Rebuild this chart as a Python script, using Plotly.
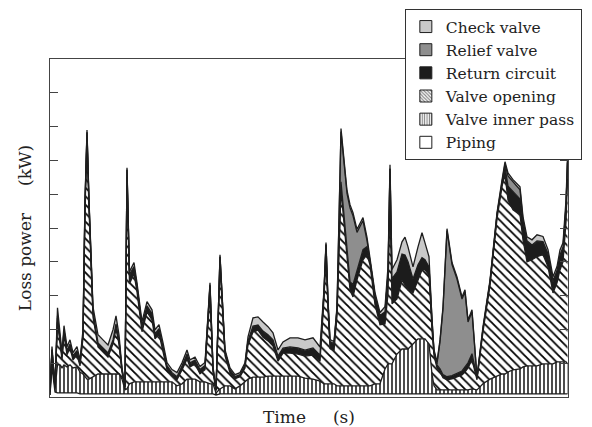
import plotly.graph_objects as go

# Time axis (s) and stacked loss-power components (kW)
time_s = [0, 2, 5, 7.5, 10, 12, 14, 17, 20, 23,
          27, 30, 33, 35, 37, 39, 43, 48, 53, 58,
          63, 66, 69, 72, 75, 77, 79.5, 84, 87, 92,
          97, 102, 105, 109, 113, 117, 122, 127, 132, 137,
          140, 145, 150, 155, 160, 163, 166, 170, 175, 180,
          185, 190, 195, 198, 203, 208, 213, 218, 223, 228,
          233, 240, 248, 255, 263, 270, 274, 276, 278, 280,
          284, 287, 291, 297, 300, 303, 307, 313, 317, 320,
          325, 330, 335, 338, 340, 342, 347, 352, 355, 358,
          363, 368, 372, 375, 379, 382, 384, 387, 390, 393,
          397, 402, 407, 412, 415, 418, 422, 427, 433, 440,
          447, 452, 455, 458, 463, 470, 473, 477, 482, 487,
          493, 498, 503, 507, 510, 513, 516, 517.5]

piping = [0.6, 8.9, 1.5, 1.2, 1.2, 1.2, 1.2, 1.2, 1.2, 1.2,
          1.2, 0.9, 0.9, 0.9, 0.9, 0.9, 0.9, 0.9, 0.9, 0.9,
          0.9, 0.9, 0.9, 0.9, 0.9, 0.9, 0.9, 0.9, 0.9, 0.9,
          0.9, 0.9, 0.9, 0.9, 0.9, 0.9, 0.9, 0.9, 0.9, 0.9,
          0.9, 0.9, 0.9, 0.9, 0.9, 0.9, 0.6, 0.9, 0.9, 0.9,
          0.9, 0.9, 0.9, 0.9, 0.9, 0.9, 0.9, 0.9, 0.9, 0.9,
          0.9, 0.9, 0.9, 0.9, 0.9, 0.9, 0.9, 0.9, 0.9, 0.9,
          0.9, 0.9, 0.9, 0.9, 0.9, 0.9, 0.9, 0.9, 0.9, 0.9,
          0.9, 0.9, 0.9, 0.9, 0.9, 0.9, 0.9, 0.9, 0.9, 0.9,
          0.9, 0.9, 0.9, 0.9, 0.9, 0.9, 0.9, 0.9, 0.9, 0.9,
          0.9, 0.9, 0.9, 0.9, 0.9, 0.9, 0.9, 0.9, 0.9, 0.9,
          0.9, 0.9, 0.9, 0.9, 0.9, 0.9, 0.9, 0.9, 0.9, 0.9,
          0.9, 0.9, 0.9, 0.9, 0.9, 0.9, 0.9, 0.9]

inner_pass = [0, 3.0, 0.9, 8.3, 8.3, 7.4, 8.3, 7.7, 8.3, 7.4,
              7.7, 6.5, 5.9, 5.3, 4.4, 4.4, 5.0, 5.9, 5.9, 5.9,
              5.9, 5.9, 5.9, 4.4, 1.2, 1.5, 3.0, 3.6, 3.6, 3.6,
              3.6, 3.6, 3.6, 3.6, 3.6, 3.6, 3.6, 2.4, 3.0, 4.4,
              4.4, 4.4, 3.6, 3.6, 3.0, 3.0, 0.6, 1.5, 2.4, 2.4,
              1.5, 2.4, 3.6, 4.4, 5.0, 5.0, 5.0, 5.3, 5.3, 5.3,
              5.3, 5.3, 5.3, 4.7, 4.4, 3.8, 3.0, 3.0, 3.0, 3.0,
              3.0, 2.4, 2.4, 2.4, 2.4, 2.4, 2.4, 2.4, 2.4, 2.4,
              3.0, 3.0, 7.4, 8.9, 8.9, 8.9, 11.8, 13.3, 13.3, 13.3,
              14.8, 16.3, 16.3, 16.3, 14.8, 5.9, 2.4, 1.2, 1.2, 1.2,
              1.2, 1.2, 1.2, 1.2, 1.2, 1.2, 1.5, 1.2, 3.0, 4.4,
              5.3, 5.9, 5.9, 6.5, 7.1, 7.4, 8.0, 8.3, 8.3, 8.3,
              8.9, 8.9, 8.9, 9.5, 9.5, 9.5, 9.5, 8.9]

valve_opening = [0.9, 1.5, 0.3, 12.7, 6.5, 2.4, 8.9, 3.6, 5.0, 2.4,
                 3.6, 1.8, 10.7, 49.1, 71.0, 50.3, 17.8, 8.0, 6.5, 5.0,
                 8.9, 13.3, 8.9, 2.1, 0.6, 62.7, 29.6, 32.0, 26.6, 14.8,
                 20.7, 18.3, 12.7, 14.2, 8.9, 3.6, 1.8, 1.8, 4.1, 5.9,
                 3.6, 4.4, 2.4, 3.6, 26.6, 3.6, 0.6, 36.7, 8.9, 3.8,
                 3.0, 2.7, 4.1, 10.1, 13.3, 13.9, 11.8, 10.4, 8.9, 4.4,
                 6.8, 6.8, 6.5, 6.5, 7.1, 5.9, 25.2, 38.5, 22.2, 10.4,
                 9.8, 20.7, 58.0, 37.3, 28.4, 26.3, 31.4, 37.3, 38.8, 35.8,
                 23.4, 17.5, 13.3, 20.7, 50.3, 17.8, 16.3, 20.4, 18.9, 17.5,
                 15.1, 17.5, 20.4, 20.4, 20.4, 13.0, 8.9, 6.5, 5.3, 3.6,
                 3.0, 3.3, 3.8, 4.4, 5.3, 6.5, 8.6, 3.0, 15.4, 27.8,
                 46.5, 55.6, 58.9, 50.9, 47.4, 45.6, 37.6, 30.8, 31.4, 32.3,
                 32.3, 28.7, 21.0, 23.4, 27.2, 29.6, 41.4, 54.8]

return_circuit = [0.3, 0.6, 0.3, 1.2, 1.2, 0.9, 1.2, 0.9, 0.9, 0.9,
                  0.9, 0.6, 0.9, 1.8, 1.8, 1.8, 1.5, 0.9, 0.9, 0.9,
                  0.9, 1.2, 0.9, 0.6, 0.3, 2.1, 2.4, 1.8, 1.5, 1.5,
                  1.5, 1.5, 1.2, 1.2, 1.2, 0.9, 0.6, 0.6, 0.9, 1.2,
                  0.9, 0.9, 0.9, 0.9, 2.4, 0.9, 0.3, 2.4, 1.2, 0.9,
                  0.6, 0.6, 0.9, 1.2, 1.5, 1.2, 1.5, 1.5, 1.5, 1.2,
                  1.2, 1.5, 1.5, 1.5, 1.8, 1.5, 1.8, 2.7, 2.1, 1.8,
                  1.8, 1.8, 2.4, 1.8, 2.4, 3.6, 3.0, 3.0, 2.4, 1.2,
                  2.7, 2.7, 3.6, 5.9, 7.4, 7.4, 8.0, 7.7, 8.9, 8.3,
                  4.1, 4.4, 3.6, 3.0, 2.4, 1.8, 1.2, 0.9, 0.9, 0.9,
                  0.9, 0.9, 1.2, 1.2, 1.5, 1.5, 1.8, 0.6, 0.9, 0.9,
                  1.2, 1.2, 2.4, 4.1, 5.3, 4.7, 5.3, 5.9, 4.1, 4.4,
                  3.6, 3.6, 3.3, 3.3, 4.1, 4.1, 4.4, 4.7]

relief_valve = [0, 0, 0, 0.6, 0.3, 0.3, 0.3, 0.3, 0.3, 0.3,
                0.3, 0.3, 0.3, 0.3, 0.3, 0.3, 0.3, 0.3, 0.3, 0.3,
                0.3, 0.3, 0.3, 0, 0, 0, 0.3, 0.3, 0.3, 0.3,
                0.3, 0.3, 0.3, 0.3, 0.3, 0.3, 0.3, 0.3, 0.3, 0.3,
                0.3, 0.3, 0.3, 0.3, 0.3, 0, 0, 0, 0, 0,
                0, 0, 0, 0, 0.3, 0.3, 0.3, 0.3, 0.3, 0.3,
                0.3, 0.3, 0.3, 0.3, 0.3, 0.3, 0.3, 0, 0, 0.3,
                0.3, 0.3, 14.8, 17.8, 21.9, 20.4, 11.0, 8.6, 1.8, 0,
                0, 0, 0, 0, 0, 0, 0, 0, 0, 0,
                0, 0, 0, 0, 0, 0, 0, 0.3, 8.0, 19.5,
                43.2, 32.9, 27.8, 21.3, 22.2, 12.1, 12.4, 0, 0, 0,
                0, 0, 0.9, 3.0, 3.0, 2.7, 0.6, 0.3, 0.3, 0.3,
                0.3, 0.3, 0.3, 0.3, 0.3, 0.3, 0.3, 0.3]

check_valve = [0.3, 0.9, 0, 2.4, 1.5, 0.9, 1.2, 1.2, 1.2, 0.9,
               1.2, 0.9, 1.2, 0.9, 0.6, 0.6, 1.2, 2.4, 2.4, 2.4,
               3.0, 2.4, 1.5, 0.6, 0, 0.6, 0.9, 1.2, 0.9, 1.2,
               1.2, 1.2, 1.2, 1.2, 1.2, 0.9, 0.9, 1.2, 0.9, 1.2,
               0.9, 0.9, 0.9, 0.9, 0.6, 0.6, 0, 0.6, 0.6, 0.6,
               0.6, 0.6, 0.6, 1.2, 2.4, 2.4, 2.7, 2.4, 2.1, 1.8,
               1.8, 2.7, 3.0, 3.0, 3.0, 2.4, 0.6, 0.6, 0.6, 0.6,
               0.6, 0.6, 0.9, 0.9, 0.9, 0.9, 0.9, 0.9, 0.9, 0.3,
               0.9, 0.9, 1.5, 2.1, 1.2, 2.7, 3.6, 3.6, 5.3, 4.4,
               3.6, 5.3, 7.4, 5.0, 3.0, 1.2, 0.6, 0.6, 0.6, 0.6,
               0.6, 0.6, 0.6, 0.6, 0.6, 0.6, 0.6, 0.3, 0.6, 0.6,
               0.6, 0.6, 0.6, 0.9, 0.6, 0.9, 0.9, 1.2, 1.5, 1.8,
               1.5, 1.2, 1.2, 1.2, 1.5, 1.2, 1.8, 1.2]

series_names = ["Piping", "Valve inner pass", "Valve opening",
                "Return circuit", "Relief valve", "Check valve"]
series_values = [piping, inner_pass, valve_opening,
                 return_circuit, relief_valve, check_valve]

LINE = "#1e1e1e"
styles = {
    "Piping": dict(fillcolor="white", pattern=None),
    "Valve inner pass": dict(fillcolor="white",
                             pattern=dict(shape="|", size=4, solidity=0.35)),
    "Valve opening": dict(fillcolor="white",
                          pattern=dict(shape="\\", size=6, solidity=0.3)),
    "Return circuit": dict(fillcolor="#1c1c1c", pattern=None),
    "Relief valve": dict(fillcolor="#8e8e8e", pattern=None),
    "Check valve": dict(fillcolor="#c9c9c9", pattern=None),
}

fig = go.Figure()

for name, vals in zip(series_names, series_values):
    st = styles[name]
    kw = {}
    if st["pattern"] is not None:
        kw["fillpattern"] = dict(shape=st["pattern"]["shape"], size=st["pattern"]["size"],
                                 solidity=st["pattern"]["solidity"], fgcolor="black",
                                 bgcolor="white", fillmode="replace")
    fig.add_trace(go.Scatter(
        x=time_s, y=vals, name=name, stackgroup="loss", mode="lines",
        line=dict(color=LINE, width=1.3), fillcolor=st["fillcolor"],
        showlegend=False, hoverinfo="skip", **kw))

# legend entries (square swatches), listed top to bottom
for name in reversed(series_names):
    st = styles[name]
    marker = dict(color=st["fillcolor"], line=dict(color=LINE, width=1))
    if st["pattern"] is not None:
        marker["pattern"] = dict(shape=st["pattern"]["shape"], size=3,
                                 solidity=0.45, fgcolor="black", bgcolor="white")
    fig.add_trace(go.Bar(x=[-1000], y=[0], name=name, marker=marker,
                         showlegend=True, hoverinfo="skip"))

SERIF = "DejaVu Serif, Liberation Serif, serif"
nb = "\u00a0"
fig.update_layout(
    width=584, height=419,
    margin=dict(l=42, r=24, t=51, b=30, autoexpand=False),
    paper_bgcolor="white", plot_bgcolor="white",
    font=dict(family=SERIF, size=14.5, color="#222"),
    showlegend=True,
    legend=dict(x=0.685, y=1.148, xanchor="left", yanchor="top",
                bgcolor="white", bordercolor="#333", borderwidth=1,
                font=dict(family=SERIF, size=15.5), traceorder="normal",
                itemwidth=30, tracegroupgap=0),
    xaxis=dict(range=[0, 518], showticklabels=False, ticks="", showgrid=False,
               zeroline=False, showline=True, linecolor="#444", linewidth=1,
               mirror=True, automargin=False,
               title=dict(text="Time" + nb * 5 + "(s)", standoff=15)),
    yaxis=dict(range=[0, 100], dtick=10, tick0=0, ticks="inside", ticklen=8,
               tickcolor="#444", showticklabels=False, showgrid=False,
               zeroline=False, showline=True, linecolor="#444", linewidth=1,
               mirror="ticks", automargin=False,
               title=dict(text="Loss power" + nb * 5 + "(kW)", standoff=13)),
)

fig.write_html("out.html")
